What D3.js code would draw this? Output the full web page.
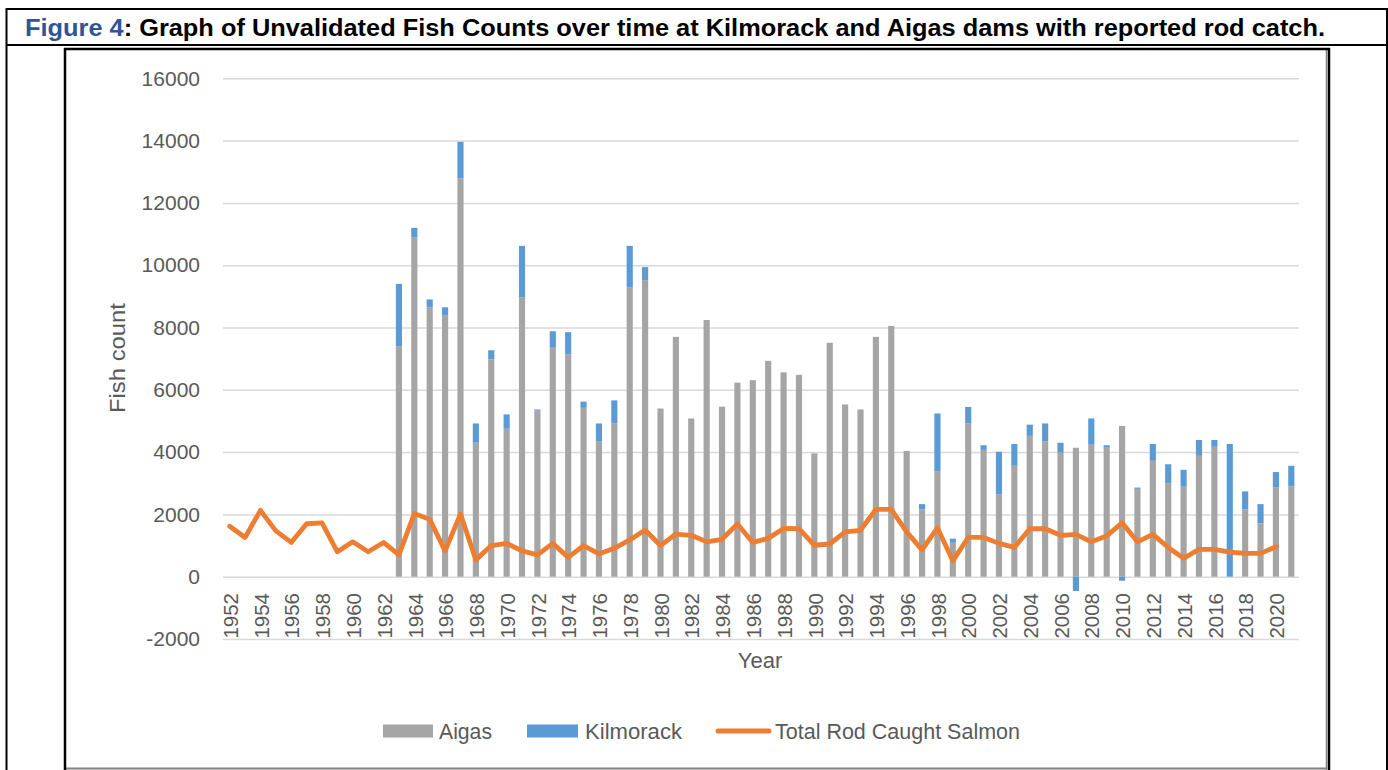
<!DOCTYPE html>
<html>
<head>
<meta charset="utf-8">
<script src="https://cdn.jsdelivr.net/npm/d3@7"></script>
<style>
  html, body { margin: 0; padding: 0; background: #fff; }
  svg { display: block; }
  text { font-family: "Liberation Sans", Arial, sans-serif; }
</style>
</head>
<body>
<svg id="chart" width="1388" height="770"></svg>
<script>
// Years on the category axis
const years = [
  1952, 1953, 1954, 1955, 1956, 1957, 1958, 1959, 1960, 1961,
  1962, 1963, 1964, 1965, 1966, 1967, 1968, 1969, 1970, 1971,
  1972, 1973, 1974, 1975, 1976, 1977, 1978, 1979, 1980, 1981,
  1982, 1983, 1984, 1985, 1986, 1987, 1988, 1989, 1990, 1991,
  1992, 1993, 1994, 1995, 1996, 1997, 1998, 1999, 2000, 2001,
  2002, 2003, 2004, 2005, 2006, 2007, 2008, 2009, 2010, 2011,
  2012, 2013, 2014, 2015, 2016, 2017, 2018, 2019, 2020, 2021
];

// Aigas dam counts (no counts before 1963)
const aigas = [
  null, null, null, null, null, null, null, null, null, null,
  null, 7400, 10900, 8650, 8380, 12780, 4300, 6980, 4750, 8960,
  5330, 7350, 7140, 5420, 4350, 4920, 9280, 9520, 5400, 7700,
  5080, 8240, 5460, 6230, 6310, 6930, 6560, 6480, 3960, 7510,
  5530, 5370, 7700, 8050, 4040, 2160, 3390, 1090, 4920, 4070,
  2650, 3560, 4520, 4350, 3980, 4140, 4260, 4140, 4840, 2820,
  3720, 2990, 2890, 3880, 4170, 0, 2160, 1710, 2860, 2900
];

// Kilmorack dam counts (stacked on top of Aigas)
const kilmorack = [
  null, null, null, null, null, null, null, null, null, null,
  null, 2000, 300, 250, 270, 1180, 620, 290, 460, 1660,
  40, 530, 710, 200, 570, 740, 1340, 420, 0, 0,
  0, 0, 0, 0, 0, 0, 0, 0, 0, 0,
  0, 0, 0, 0, 0, 170, 1850, 130, 530, 150,
  1360, 700, 360, 570, 320, -460, 820, 80, -130, 40,
  540, 620, 540, 510, 220, 4260, 580, 620, 500, 660
];

// Total rod caught salmon (no figure for 2021)
const rodCatch = [
  1620, 1260, 2130, 1470, 1100, 1700, 1730, 800, 1120, 800,
  1100, 700, 2030, 1840, 830, 2010, 540, 1000, 1070, 830,
  700, 1070, 620, 1000, 730, 910, 1180, 1500, 1000, 1370,
  1330, 1120, 1200, 1690, 1100, 1230, 1550, 1540, 1010, 1050,
  1440, 1490, 2160, 2160, 1440, 860, 1570, 510, 1260, 1260,
  1070, 940, 1540, 1540, 1330, 1360, 1120, 1310, 1730, 1120,
  1360, 940, 590, 880, 880, 790, 750, 750, 960, null
];

const yTicks = [-2000, 0, 2000, 4000, 6000, 8000, 10000, 12000, 14000, 16000];

const seriesNames = ["Aigas", "Kilmorack"];
const seriesColors = { Aigas: "#a5a5a5", Kilmorack: "#5b9bd5" };
const lineName = "Total Rod Caught Salmon";
const lineColor = "#ed7d31";
const textColor = "#595959";
const gridColor = "#d9d9d9";

const svg = d3.select("#chart");

// ---- table frame around the figure ----
const frame = svg.append("g");
frame.append("line").attr("x1", 6).attr("x2", 1387).attr("y1", 9).attr("y2", 9)
  .attr("stroke", "#000").attr("stroke-width", 2);
frame.append("line").attr("x1", 6).attr("x2", 1387).attr("y1", 45).attr("y2", 45)
  .attr("stroke", "#000").attr("stroke-width", 2);
frame.append("line").attr("x1", 6.5).attr("x2", 6.5).attr("y1", 8).attr("y2", 770)
  .attr("stroke", "#000").attr("stroke-width", 2);
frame.append("line").attr("x1", 1387).attr("x2", 1387).attr("y1", 8).attr("y2", 770)
  .attr("stroke", "#000").attr("stroke-width", 2);

// ---- caption ----
const caption = svg.append("text")
  .attr("x", 25).attr("y", 36)
  .attr("font-family", "'Open Sans', 'Liberation Sans', sans-serif")
  .attr("font-weight", "bold")
  .attr("font-size", 23)
  .attr("textLength", 1300)
  .attr("lengthAdjust", "spacingAndGlyphs");
caption.append("tspan").attr("fill", "#2f5597").text("Figure 4");
caption.append("tspan").attr("fill", "#000")
  .text(": Graph of Unvalidated Fish Counts over time at Kilmorack and Aigas dams with reported rod catch.");

// ---- chart box ----
svg.append("line").attr("x1", 66).attr("x2", 1327).attr("y1", 768.5).attr("y2", 768.5)
  .attr("stroke", "#808080").attr("stroke-width", 2);
svg.append("line").attr("x1", 1326.5).attr("x2", 1326.5).attr("y1", 49).attr("y2", 770)
  .attr("stroke", "#808080").attr("stroke-width", 1.5);
svg.append("line").attr("x1", 65).attr("x2", 65).attr("y1", 48).attr("y2", 770)
  .attr("stroke", "#000").attr("stroke-width", 2.5);
svg.append("line").attr("x1", 1329).attr("x2", 1329).attr("y1", 48).attr("y2", 770)
  .attr("stroke", "#000").attr("stroke-width", 2.5);
svg.append("line").attr("x1", 64).attr("x2", 1330).attr("y1", 49).attr("y2", 49)
  .attr("stroke", "#000").attr("stroke-width", 2.5);

// ---- scales ----
const x = d3.scaleBand()
  .domain(years)
  .range([222, 1299])
  .paddingInner(0.6)
  .paddingOuter(0.3);

const y = d3.scaleLinear()
  .domain([-2000, 16000])
  .range([639, 78.3]);

// ---- gridlines + y axis ----
const yAxis = d3.axisLeft(y).tickValues(yTicks).tickSize(-(1299 - 223)).tickPadding(23)
  .tickFormat(d => String(d));
const yg = svg.append("g").attr("transform", "translate(223,0)").call(yAxis);
yg.select(".domain").remove();
yg.selectAll(".tick line").attr("stroke", gridColor).attr("stroke-width", 1.5);
yg.selectAll(".tick text")
  .attr("fill", textColor)
  .attr("font-size", 21)
  .attr("font-family", "'Liberation Sans', Arial, sans-serif");

// ---- stacked bars ----
const rows = years.map((yr, i) => ({
  year: yr,
  Aigas: aigas[i] == null ? 0 : aigas[i],
  Kilmorack: kilmorack[i] == null ? 0 : kilmorack[i]
}));
const stacked = d3.stack().keys(seriesNames).offset(d3.stackOffsetDiverging)(rows);

svg.append("g").selectAll("g")
  .data(stacked)
  .join("g")
  .attr("fill", d => seriesColors[d.key])
  .selectAll("rect")
  .data(d => d.filter(p => p[1] !== p[0]))
  .join("rect")
  .attr("x", p => x(p.data.year))
  .attr("width", x.bandwidth())
  .attr("y", p => y(Math.max(p[0], p[1])))
  .attr("height", p => Math.abs(y(p[0]) - y(p[1])));

// ---- rod catch line ----
const line = d3.line()
  .defined((d, i) => rodCatch[i] != null)
  .x((d, i) => x(years[i]) + x.bandwidth() / 2)
  .y((d, i) => y(rodCatch[i]));

svg.append("path")
  .datum(rodCatch)
  .attr("d", line)
  .attr("fill", "none")
  .attr("stroke", lineColor)
  .attr("stroke-width", 4.8)
  .attr("stroke-linejoin", "round")
  .attr("stroke-linecap", "round");

// ---- x axis labels (every second year, rotated) ----
const xLabels = years.filter(yr => (yr - 1952) % 2 === 0);
svg.append("g").selectAll("text")
  .data(xLabels)
  .join("text")
  .attr("transform", d => `translate(${x(d) + x.bandwidth() / 2 + 1},593) rotate(-90)`)
  .attr("text-anchor", "end")
  .attr("dy", "0.35em")
  .attr("fill", textColor)
  .attr("font-size", 20.5)
  .text(d => d);

// ---- axis titles ----
svg.append("text")
  .attr("x", 760).attr("y", 668)
  .attr("text-anchor", "middle")
  .attr("fill", textColor)
  .attr("font-size", 22)
  .text("Year");

svg.append("text")
  .attr("transform", "translate(125,358) rotate(-90)")
  .attr("text-anchor", "middle")
  .attr("fill", textColor)
  .attr("font-size", 22)
  .attr("textLength", 110)
  .attr("lengthAdjust", "spacingAndGlyphs")
  .text("Fish count");

// ---- legend ----
const legend = svg.append("g").attr("font-size", 22).attr("fill", textColor);
const legendItems = [
  { name: "Aigas", kind: "rect", color: seriesColors.Aigas, x0: 383, x1: 433, tx: 439, tw: 53 },
  { name: "Kilmorack", kind: "rect", color: seriesColors.Kilmorack, x0: 527, x1: 578, tx: 585, tw: 97 },
  { name: lineName, kind: "line", color: lineColor, x0: 718, x1: 769, tx: 775, tw: 245 }
];
legendItems.forEach(it => {
  if (it.kind === "rect") {
    legend.append("rect").attr("x", it.x0).attr("y", 724.5)
      .attr("width", it.x1 - it.x0).attr("height", 13).attr("fill", it.color);
  } else {
    legend.append("line").attr("x1", it.x0).attr("x2", it.x1)
      .attr("y1", 731).attr("y2", 731)
      .attr("stroke", it.color).attr("stroke-width", 5).attr("stroke-linecap", "round");
  }
  legend.append("text").attr("x", it.tx).attr("y", 739)
    .attr("fill", textColor)
    .attr("textLength", it.tw).attr("lengthAdjust", "spacingAndGlyphs")
    .text(it.name);
});
</script>
</body>
</html>
